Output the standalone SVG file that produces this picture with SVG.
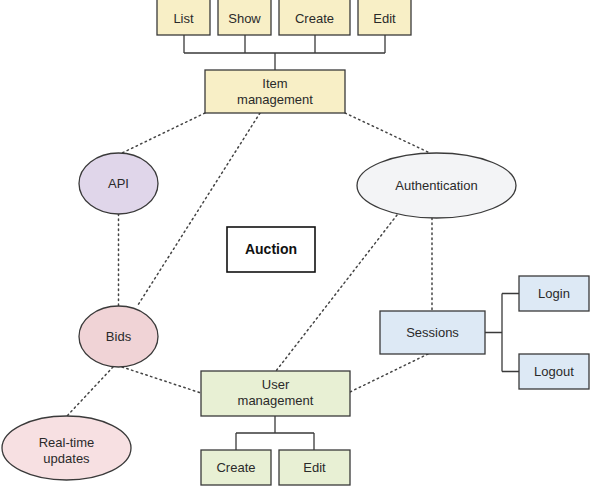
<svg xmlns="http://www.w3.org/2000/svg" width="590" height="486" viewBox="0 0 590 486">
<style>
.b{stroke:#3a3a3a;stroke-width:1.3}
.y{fill:#f8efc6}
.g{fill:#e8f0d4}
.bl{fill:#dde9f5}
.t{font-family:"Liberation Sans",Arial,sans-serif;font-size:13px;fill:#2a2a2a;text-anchor:middle}
.tr{fill:none;stroke:#3a3a3a;stroke-width:1.3}
.d{fill:none;stroke:#444;stroke-width:1.5;stroke-dasharray:1.5 3.5;stroke-linecap:round}
</style>
<rect width="590" height="486" fill="#fff"/>
<g id="connectors">
<path class="tr" d="M184 35V53M245 35V53M315 35V53M385 35V53M184 53H385M275 53V70"/>
<path class="tr" d="M275 416V433M236 433H314M236 433V450M314 433V450"/>
<path class="tr" d="M485 332.5H502M502 293.5V371.5M502 293.5H519M502 371.5H519"/>
<path class="d" d="M205 113L122 153"/>
<path class="d" d="M260 113L138 305"/>
<path class="d" d="M345 113L430 153"/>
<path class="d" d="M118.5 214V306"/>
<path class="d" d="M397 215L276 371"/>
<path class="d" d="M432 218V311"/>
<path class="d" d="M428 354L350 392"/>
<path class="d" d="M122 367L201 393"/>
<path class="d" d="M113 367L67 416"/>
</g>
<g id="list"><rect class="b y" x="157" y="-2" width="53" height="37"/><text class="t" x="183.5" y="23">List</text></g>
<g id="show"><rect class="b y" x="218" y="-2" width="53" height="37"/><text class="t" x="244.5" y="23">Show</text></g>
<g id="create-item"><rect class="b y" x="279" y="-2" width="71" height="37"/><text class="t" x="314.5" y="23">Create</text></g>
<g id="edit-item"><rect class="b y" x="358" y="-2" width="53" height="37"/><text class="t" x="384.5" y="23">Edit</text></g>
<g id="item-management"><rect class="b y" x="205" y="70" width="140" height="43"/><text class="t" x="275" y="88">Item</text><text class="t" x="275" y="104">management</text></g>
<g id="api"><ellipse class="b" fill="#e0d6ea" cx="118.5" cy="183.5" rx="39.5" ry="30.5"/><text class="t" x="118.5" y="188">API</text></g>
<g id="auction"><rect fill="#fff" stroke="#111" stroke-width="1.6" x="227" y="227" width="88" height="45"/><text class="t" x="271" y="254" style="font-weight:bold;font-size:14px;fill:#111">Auction</text></g>
<g id="authentication"><ellipse class="b" fill="#f3f4f6" cx="436.5" cy="185.5" rx="79.5" ry="32.5"/><text class="t" x="436.5" y="190">Authentication</text></g>
<g id="bids"><ellipse class="b" fill="#f0d3d6" cx="118.5" cy="336.5" rx="39.5" ry="30.5"/><text class="t" x="118.5" y="341">Bids</text></g>
<g id="sessions"><rect class="b bl" x="380" y="311" width="105" height="43"/><text class="t" x="432.5" y="337">Sessions</text></g>
<g id="login"><rect class="b bl" x="519" y="276" width="70" height="35"/><text class="t" x="554" y="298">Login</text></g>
<g id="logout"><rect class="b bl" x="519" y="354" width="70" height="35"/><text class="t" x="554" y="376">Logout</text></g>
<g id="real-time-updates"><ellipse class="b" fill="#f7e0e2" cx="66.5" cy="448" rx="64.5" ry="32"/><text class="t" x="66.5" y="447">Real-time</text><text class="t" x="66.5" y="463">updates</text></g>
<g id="user-management"><rect class="b g" x="201" y="371" width="149" height="45"/><text class="t" x="275.5" y="389">User</text><text class="t" x="275.5" y="405">management</text></g>
<g id="create-user"><rect class="b g" x="201" y="450" width="70" height="35"/><text class="t" x="236" y="472">Create</text></g>
<g id="edit-user"><rect class="b g" x="279" y="450" width="71" height="35"/><text class="t" x="314.5" y="472">Edit</text></g>
</svg>
